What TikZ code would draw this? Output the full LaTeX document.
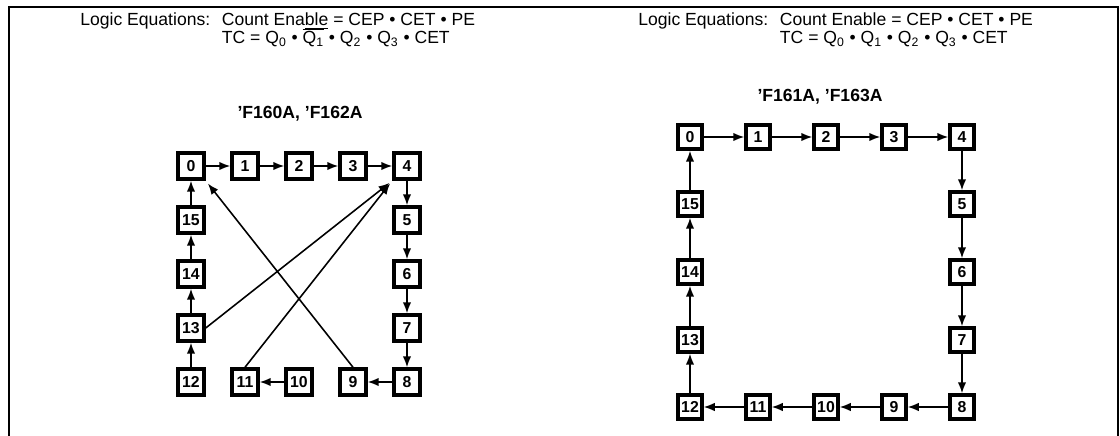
\documentclass[tikz,border=0pt]{standalone}
\usepackage{fontspec}
\setmainfont{Liberation Sans}
\usetikzlibrary{arrows.meta,positioning}

\begin{document}
\begin{tikzpicture}[
  x=0.02cm, y=-0.02cm,
  font=\fontsize{10}{12}\selectfont,
  cnt/.style={draw, line width=0.07cm, minimum size=0.52cm, inner sep=0pt, fill=white, font=\fontsize{9}{10}\selectfont\bfseries},
  cntr/.style={cnt, minimum size=0.48cm},
  nxt/.style={-{Latex[length=2.2mm,width=1.7mm]}, line width=0.9pt},
  eqn/.style={inner sep=0pt, anchor=base west},
  ttl/.style={inner sep=0pt, font=\fontsize{10}{12}\selectfont\bfseries}
]
\useasboundingbox (0,0) rectangle (1120,436);
\draw[line width=0.04cm] (9,445) -- (9,7) -- (1118,7) -- (1118,445);

% left panel
\node[eqn] (logl) at (80,26) {Logic Equations:};
\node[eqn, base right=2.2mm of logl] (cel) {Count Ena\underline{ble} = CEP • CET • PE};
\node[eqn] (tcl) at ([yshift=-0.36cm]cel.base west)
  {TC = Q\textsubscript{0} • $\overline{\hbox{Q\textsubscript{1}}}$ • Q\textsubscript{2} • Q\textsubscript{3} • CET};
\node[ttl] (hdl) at (300,114) {’F160A, ’F162A};

\node[cnt] (a0) at (191,166) {0};
\node[cnt] (a1) at (245,166) {1};
\node[cnt] (a2) at (299,166) {2};
\node[cnt] (a3) at (353,166) {3};
\node[cnt] (a4) at (407,166) {4};
\node[cnt] (a5) at (407,220) {5};
\node[cnt] (a6) at (407,274) {6};
\node[cnt] (a7) at (407,328) {7};
\node[cnt] (a8) at (407,382) {8};
\node[cnt] (a9) at (353,382) {9};
\node[cnt] (a10) at (299,382) {10};
\node[cnt] (a11) at (245,382) {11};
\node[cnt] (a12) at (191,382) {12};
\node[cnt] (a13) at (191,328) {13};
\node[cnt] (a14) at (191,274) {14};
\node[cnt] (a15) at (191,220) {15};

\draw[nxt] (a0) -- (a1);
\draw[nxt] (a1) -- (a2);
\draw[nxt] (a2) -- (a3);
\draw[nxt] (a3) -- (a4);
\draw[nxt] (a4) -- (a5);
\draw[nxt] (a5) -- (a6);
\draw[nxt] (a6) -- (a7);
\draw[nxt] (a7) -- (a8);
\draw[nxt] (a8) -- (a9);
\draw[nxt] (a10) -- (a11);
\draw[nxt] (a12) -- (a13);
\draw[nxt] (a13) -- (a14);
\draw[nxt] (a14) -- (a15);
\draw[nxt] (a15) -- (a0);
\draw[nxt, shorten >=2pt] (a9.north) -- (a0.south east);
\draw[nxt, shorten >=2pt] (a13.east) -- (a4.south west);
\draw[nxt, shorten >=2pt] (a11.north) -- (a4.south west);

% right panel
\node[eqn] (logr) at (638,26) {Logic Equations:};
\node[eqn, base right=2.2mm of logr] (cer) {Count Enable = CEP • CET • PE};
\node[eqn] (tcr) at ([yshift=-0.36cm]cer.base west)
  {TC = Q\textsubscript{0} • Q\textsubscript{1} • Q\textsubscript{2} • Q\textsubscript{3} • CET};
\node[ttl] (hdr) at (820,97) {’F161A, ’F163A};

\node[cntr] (b0) at (690,137) {0};
\node[cntr] (b1) at (758,137) {1};
\node[cntr] (b2) at (826,137) {2};
\node[cntr] (b3) at (894,137) {3};
\node[cntr] (b4) at (962,137) {4};
\node[cntr] (b5) at (962,204) {5};
\node[cntr] (b6) at (962,272) {6};
\node[cntr] (b7) at (962,340) {7};
\node[cntr] (b8) at (962,407) {8};
\node[cntr] (b9) at (894,407) {9};
\node[cntr] (b10) at (826,407) {10};
\node[cntr] (b11) at (758,407) {11};
\node[cntr] (b12) at (690,407) {12};
\node[cntr] (b13) at (690,340) {13};
\node[cntr] (b14) at (690,272) {14};
\node[cntr] (b15) at (690,204) {15};

\draw[nxt] (b0) -- (b1);
\draw[nxt] (b1) -- (b2);
\draw[nxt] (b2) -- (b3);
\draw[nxt] (b3) -- (b4);
\draw[nxt] (b4) -- (b5);
\draw[nxt] (b5) -- (b6);
\draw[nxt] (b6) -- (b7);
\draw[nxt] (b7) -- (b8);
\draw[nxt] (b8) -- (b9);
\draw[nxt] (b9) -- (b10);
\draw[nxt] (b10) -- (b11);
\draw[nxt] (b11) -- (b12);
\draw[nxt] (b12) -- (b13);
\draw[nxt] (b13) -- (b14);
\draw[nxt] (b14) -- (b15);
\draw[nxt] (b15) -- (b0);

\end{tikzpicture}
\end{document}
